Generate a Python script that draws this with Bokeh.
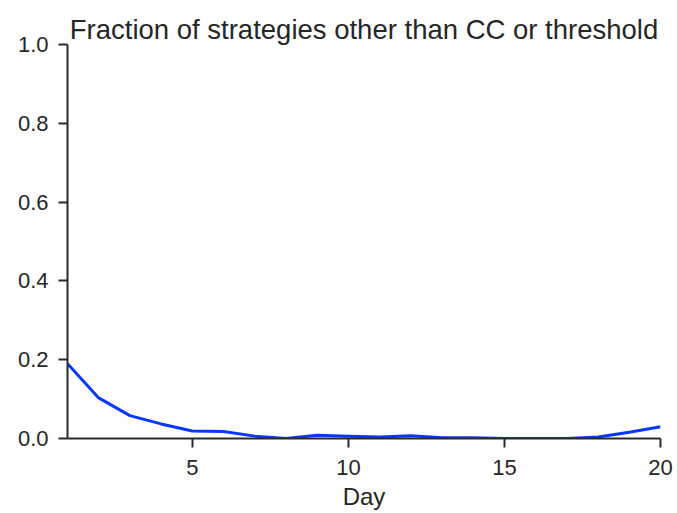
from bokeh.plotting import figure
from bokeh.models import Range1d, FixedTicker, PrintfTickFormatter
from bokeh.embed import file_html
from bokeh.resources import INLINE

days = list(range(1, 21))
fraction = [0.190, 0.103, 0.058, 0.037, 0.019, 0.018, 0.006, 0.0, 0.008, 0.006,
            0.004, 0.007, 0.002, 0.002, 0.0, 0.0, 0.0, 0.004, 0.016, 0.030]
x_ticks = [5, 10, 15, 20]
y_ticks = [0.0, 0.2, 0.4, 0.6, 0.8, 1.0]
x_label = "Day"
title = "Fraction of strategies other than CC or threshold"

FONT = "Liberation Sans"
AX = "#2a2a2a"
TXT = "#262626"

p = figure(width=677, height=513, output_backend="svg", toolbar_location=None,
           x_range=Range1d(1, 20), y_range=Range1d(0, 1),
           title=title,
           min_border_left=67, min_border_right=17, min_border_top=44, min_border_bottom=75)

p.title.text_font = FONT
p.title.text_font_size = "27.5px"
p.title.text_font_style = "normal"
p.title.text_color = TXT
p.title.align = "center"
p.title.offset = 0
p.title.standoff = 0

p.line(days, fraction, line_color="#0a37ff", line_width=3)

p.grid.visible = False
p.outline_line_color = None

for ax in (p.xaxis[0], p.yaxis[0]):
    ax.axis_line_color = AX
    ax.axis_line_width = 2
    ax.major_tick_line_color = AX
    ax.major_tick_line_width = 2
    ax.major_tick_out = 9
    ax.major_tick_in = 0
    ax.minor_tick_line_color = None
    ax.major_label_text_font = FONT
    ax.major_label_text_font_size = "22px"
    ax.major_label_text_color = TXT
    ax.axis_label_text_font = FONT
    ax.axis_label_text_font_size = "24px"
    ax.axis_label_text_font_style = "normal"
    ax.axis_label_text_color = TXT

p.xaxis.ticker = FixedTicker(ticks=x_ticks)
p.yaxis.ticker = FixedTicker(ticks=y_ticks)
p.yaxis.formatter = PrintfTickFormatter(format="%.1f")
p.xaxis.axis_label = x_label
p.xaxis.major_label_standoff = 12
p.yaxis.major_label_standoff = 10
p.xaxis.axis_label_standoff = 5

open("out.html", "w").write(file_html(p, INLINE))
